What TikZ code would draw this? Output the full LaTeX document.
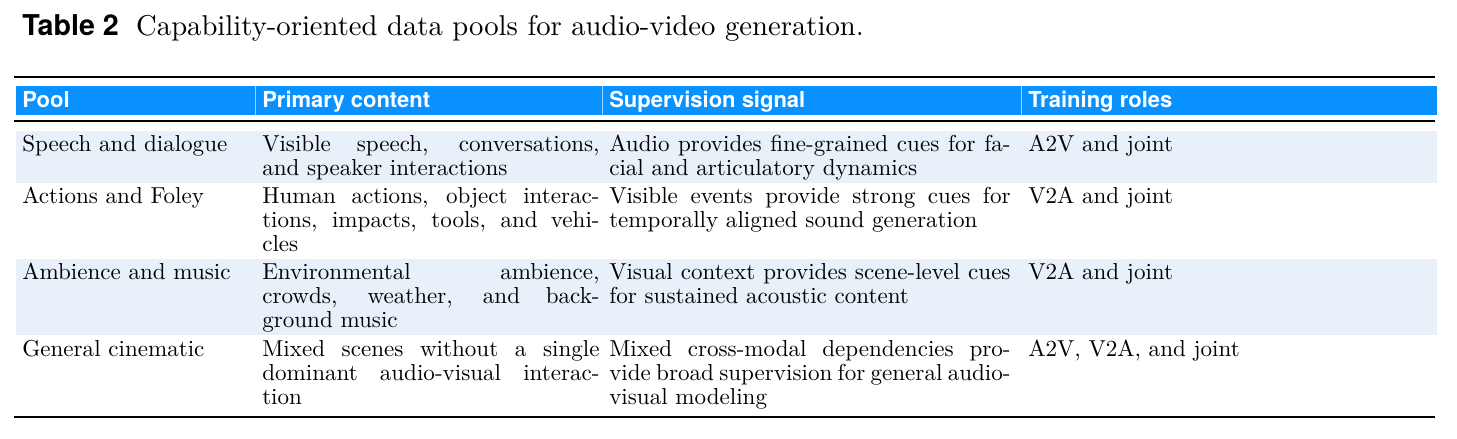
\documentclass[tikz,border=0pt]{standalone}
\usepackage{fontspec}
\setmainfont{lmroman10-regular}[Extension=.otf,BoldFont=lmroman10-bold]
\setsansfont{TeX Gyre Heros}
\definecolor{headblue}{RGB}{8,145,255}
\definecolor{rowblue}{RGB}{232,241,250}
\newcommand{\jl}[2]{\makebox[#1][s]{#2}}
\newcommand{\cellt}[1]{\begin{tabular}[t]{@{}l@{}}#1\end{tabular}}
\begin{document}
\begin{tikzpicture}[x=0.75pt,y=-0.75pt,
  cell/.style={anchor=base west,inner sep=0pt,font=\fontsize{17.3}{18.2}\selectfont},
  head/.style={anchor=base west,inner sep=0pt,text=white,font=\fontsize{16.5}{18.2}\selectfont\sffamily\bfseries}]
\useasboundingbox (0,0) rectangle (1457,439);
% caption
\node[anchor=base west,inner sep=0pt,font=\fontsize{21.5}{24}\selectfont] (cap) at (22,36)
  {\textsf{\bfseries Table 2}\hspace{13pt}Capability-oriented data pools for audio-video generation.};
% rules and bands
\fill[headblue] (16,86) rectangle (1437,115);
\draw[white!60!headblue,thin] (255,86) -- (255,115) (602,86) -- (602,115) (1021,86) -- (1021,115);
\fill[rowblue] (16,131) rectangle (1437,183);
\fill[rowblue] (16,259) rectangle (1437,335);
\draw[line width=1.5pt] (14,77) -- (1435,77);
\draw[line width=1pt] (14,121) -- (1435,121);
\draw[line width=1.5pt] (14,417) -- (1435,417);
% header
\node[head] (h1) at (22,107) {Pool};
\node[head] (h2) at (262,107) {Primary content};
\node[head] (h3) at (609,107) {Supervision signal};
\node[head] (h4) at (1028,107) {Training roles};
% rows
\node[cell] (r1a) at (22,151) {Speech and dialogue};
\node[cell] (r1b) at (262,151) {\cellt{\jl{253pt}{Visible speech, conversations,}\\and speaker interactions}};
\node[cell] (r1c) at (609,151) {\cellt{\jl{301pt}{Audio provides fine-grained cues for fa-}\\cial and articulatory dynamics}};
\node[cell] (r1d) at (1028,151) {A2V and joint};

\node[cell] (r2a) at (22,203) {Actions and Foley};
\node[cell] (r2b) at (262,203) {\cellt{\jl{253pt}{Human actions, object interac-}\\\jl{253pt}{tions, impacts, tools, and vehi-}\\cles}};
\node[cell] (r2c) at (609,203) {\cellt{\jl{301pt}{Visible events provide strong cues for}\\temporally aligned sound generation}};
\node[cell] (r2d) at (1028,203) {V2A and joint};

\node[cell] (r3a) at (22,279) {Ambience and music};
\node[cell] (r3b) at (262,279) {\cellt{\jl{253pt}{Environmental ambience,}\\\jl{253pt}{crowds, weather, and back-}\\ground music}};
\node[cell] (r3c) at (609,279) {\cellt{\jl{301pt}{Visual context provides scene-level cues}\\for sustained acoustic content}};
\node[cell] (r3d) at (1028,279) {V2A and joint};

\node[cell] (r4a) at (22,356) {General cinematic};
\node[cell] (r4b) at (262,356) {\cellt{\jl{253pt}{Mixed scenes without a single}\\\jl{253pt}{dominant audio-visual interac-}\\tion}};
\node[cell] (r4c) at (609,356) {\cellt{\jl{301pt}{Mixed cross-modal dependencies pro-}\\\jl{301pt}{vide broad supervision for general audio-}\\visual modeling}};
\node[cell] (r4d) at (1028,356) {A2V, V2A, and joint};
\end{tikzpicture}
\end{document}
